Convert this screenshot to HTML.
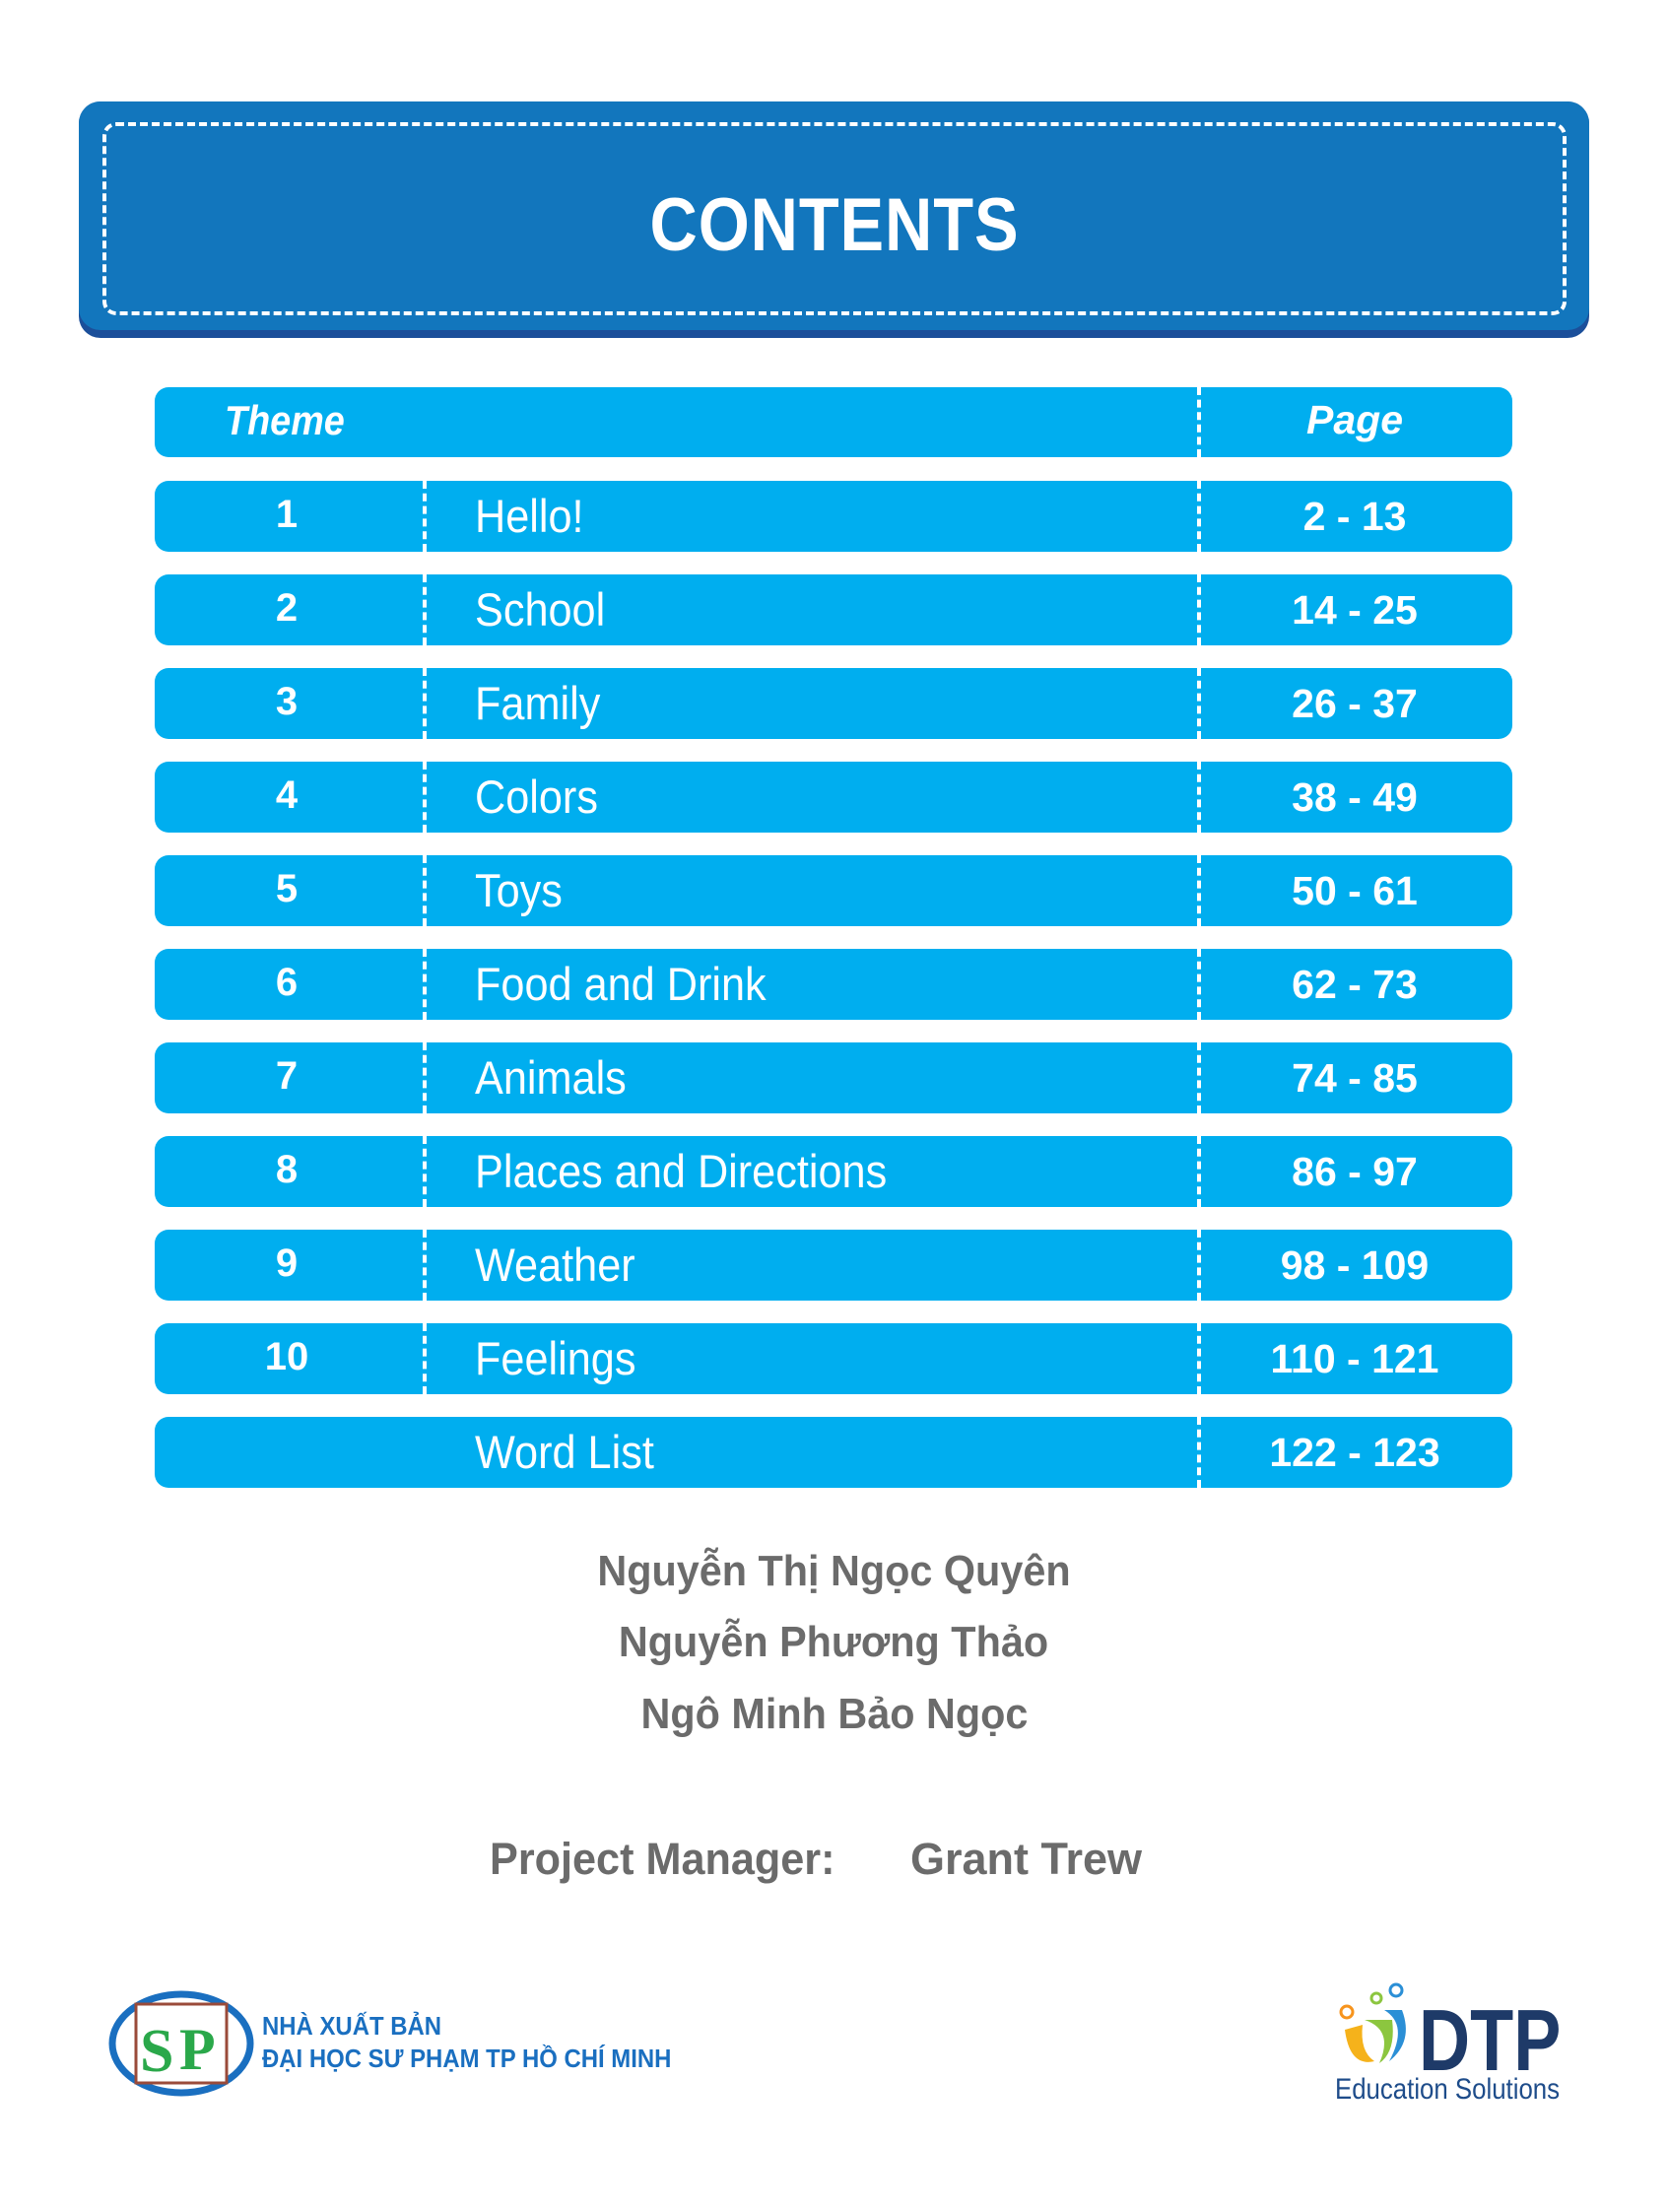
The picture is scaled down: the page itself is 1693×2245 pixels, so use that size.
<!DOCTYPE html>
<html><head><meta charset="utf-8"><style>
body{margin:0;width:1693px;height:2245px;background:#fff;position:relative;overflow:hidden;font-family:"Liberation Sans",sans-serif}
.abs{position:absolute}
.tbox{left:80px;top:103px;width:1533px;height:240px;background:#1b4f9a;border-radius:22px}
.tin{left:80px;top:103px;width:1533px;height:232px;background:#1276bd;border-radius:22px}
.dash{left:104px;top:124px;width:1478px;height:188px;border:4px dashed #fff;border-radius:14px}
.title{left:0;width:1693px;top:185px;text-align:center;color:#fff;font-weight:bold;font-size:76px;letter-spacing:1px}
.title span{display:inline-block;transform:scaleX(0.88)}
.row{left:157px;width:1378px;height:72px;background:#00aeef;border-radius:14px;color:#fff}
.vd{position:absolute;top:0;height:72px;border-left:4px dashed #fff}
.num{position:absolute;left:0;width:268px;text-align:center;top:12px;font-size:40px;font-weight:bold}
.th{position:absolute;left:325px;top:8px;font-size:47px;transform:scaleX(0.92);transform-origin:left}
.pg{position:absolute;left:1058px;width:320px;text-align:center;top:13px;font-size:41px;font-weight:bold}
.auth{left:0;width:1693px;text-align:center;color:#6b6b6b;font-weight:bold;font-size:44px}
.auth span{display:inline-block;transform:scaleX(0.94)}
</style></head><body>
<div class="abs tbox"></div><div class="abs tin"></div><div class="abs dash"></div>
<div class="abs title"><span>CONTENTS</span></div>

<div class="abs row" style="top:393px;height:71px">
<div class="vd" style="left:1058px;height:71px"></div>
<div class="abs" style="left:71px;top:10px;font-size:42px;font-weight:bold;font-style:italic;transform:scaleX(.9);transform-origin:left">Theme</div>
<div class="pg" style="font-style:italic;top:10px">Page</div>
</div>

<div class="abs row" style="top:488px"><div class="vd" style="left:272px"></div><div class="vd" style="left:1058px"></div><div class="num">1</div><div class="th">Hello!</div><div class="pg">2 - 13</div></div>
<div class="abs row" style="top:583px"><div class="vd" style="left:272px"></div><div class="vd" style="left:1058px"></div><div class="num">2</div><div class="th">School</div><div class="pg">14 - 25</div></div>
<div class="abs row" style="top:678px"><div class="vd" style="left:272px"></div><div class="vd" style="left:1058px"></div><div class="num">3</div><div class="th">Family</div><div class="pg">26 - 37</div></div>
<div class="abs row" style="top:773px"><div class="vd" style="left:272px"></div><div class="vd" style="left:1058px"></div><div class="num">4</div><div class="th">Colors</div><div class="pg">38 - 49</div></div>
<div class="abs row" style="top:868px"><div class="vd" style="left:272px"></div><div class="vd" style="left:1058px"></div><div class="num">5</div><div class="th">Toys</div><div class="pg">50 - 61</div></div>
<div class="abs row" style="top:963px"><div class="vd" style="left:272px"></div><div class="vd" style="left:1058px"></div><div class="num">6</div><div class="th">Food and Drink</div><div class="pg">62 - 73</div></div>
<div class="abs row" style="top:1058px"><div class="vd" style="left:272px"></div><div class="vd" style="left:1058px"></div><div class="num">7</div><div class="th">Animals</div><div class="pg">74 - 85</div></div>
<div class="abs row" style="top:1153px"><div class="vd" style="left:272px"></div><div class="vd" style="left:1058px"></div><div class="num">8</div><div class="th">Places and Directions</div><div class="pg">86 - 97</div></div>
<div class="abs row" style="top:1248px"><div class="vd" style="left:272px"></div><div class="vd" style="left:1058px"></div><div class="num">9</div><div class="th">Weather</div><div class="pg">98 - 109</div></div>
<div class="abs row" style="top:1343px"><div class="vd" style="left:272px"></div><div class="vd" style="left:1058px"></div><div class="num">10</div><div class="th">Feelings</div><div class="pg">110 - 121</div></div>
<div class="abs row" style="top:1438px"><div class="vd" style="left:1058px"></div><div class="th">Word List</div><div class="pg">122 - 123</div></div>

<div class="abs auth" style="top:1570px"><span>Nguyễn Thị Ngọc Quyên</span></div>
<div class="abs auth" style="top:1642px"><span>Nguyễn Phương Thảo</span></div>
<div class="abs auth" style="top:1715px"><span>Ngô Minh Bảo Ngọc</span></div>
<div class="abs" style="left:497px;top:1861px;color:#6b6b6b;font-weight:bold;font-size:45px;white-space:nowrap;transform:scaleX(.96);transform-origin:left">Project Manager:</div>
<div class="abs" style="left:924px;top:1861px;color:#6b6b6b;font-weight:bold;font-size:45px;white-space:nowrap">Grant Trew</div>

<svg class="abs" style="left:110px;top:2020px" width="152" height="110">
<ellipse cx="74" cy="54" rx="70" ry="50" fill="none" stroke="#1a6fc0" stroke-width="7"/>
<rect x="28" y="14" width="92" height="80" fill="#fff" stroke="#9a4b3a" stroke-width="3"/>
<text x="32" y="82" font-size="62" font-family="Liberation Serif" fill="#2aa84a" font-weight="bold">S</text>
<text x="72" y="80" font-size="60" font-family="Liberation Serif" fill="#2aa84a" font-weight="bold">P</text>
</svg>
<div class="abs" style="left:266px;top:2040px;color:#1a6fc0;font-weight:bold;font-size:26px;line-height:33px;white-space:nowrap;transform:scaleX(.92);transform-origin:left">NHÀ XUẤT BẢN<br>ĐẠI HỌC SƯ PHẠM TP HỒ CHÍ MINH</div>

<svg class="abs" style="left:1355px;top:2010px" width="100" height="95">
<circle cx="62" cy="10" r="6" fill="none" stroke="#2b8fd6" stroke-width="3"/>
<circle cx="42" cy="18" r="5" fill="none" stroke="#8cc63f" stroke-width="3"/>
<circle cx="12" cy="32" r="6" fill="none" stroke="#f7941d" stroke-width="3"/>
<path d="M10 50 Q15 88 40 82 Q25 72 28 45 Z" fill="#f5b21b"/>
<path d="M30 40 Q60 50 45 84 Q62 72 58 40 Z" fill="#8cc63f"/>
<path d="M50 30 Q75 45 55 82 Q80 62 68 30 Z" fill="#2b8fd6"/>
</svg>
<div class="abs" style="left:1440px;top:2020px;color:#1e3a68;font-weight:bold;font-size:88px;transform:scaleX(.82);transform-origin:left">DTP</div>
<div class="abs" style="left:1355px;top:2104px;color:#1e4c8a;font-size:30px;transform:scaleX(.86);transform-origin:left;white-space:nowrap">Education Solutions</div>
</body></html>
